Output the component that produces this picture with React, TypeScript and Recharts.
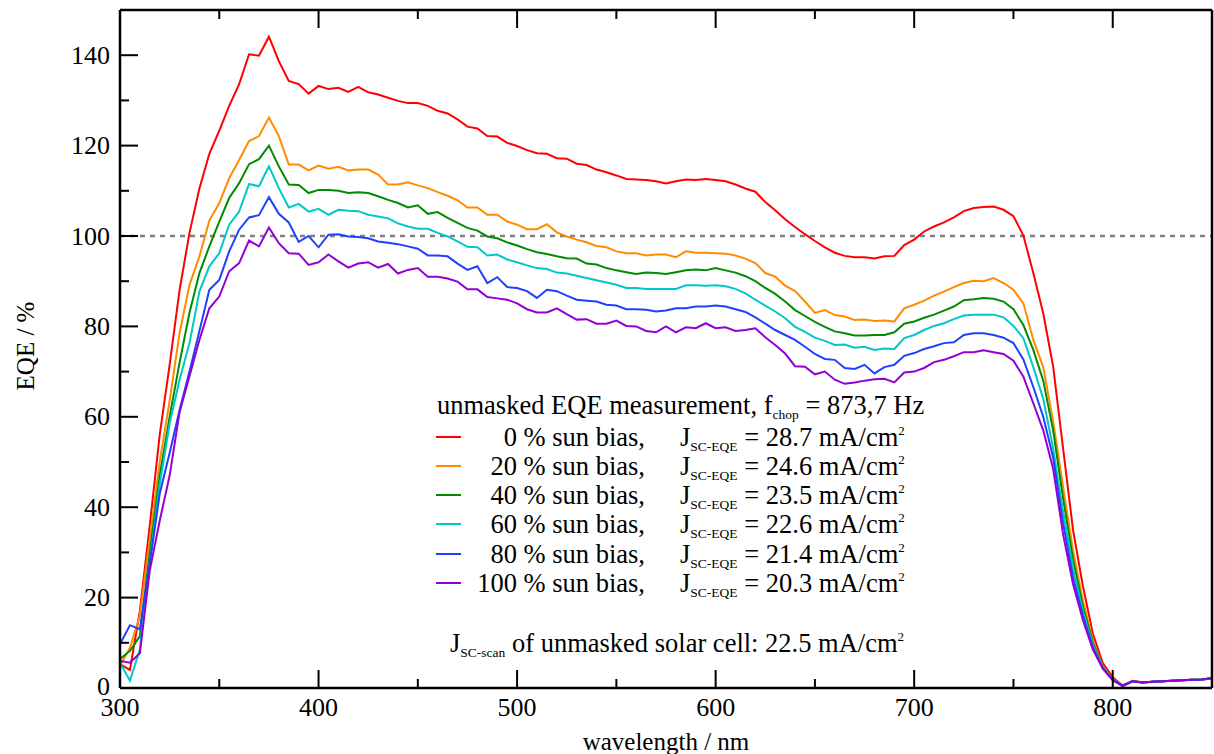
import { LineChart, Line, XAxis, YAxis, ReferenceLine } from 'recharts'

const wavelengths = [
  300, 305, 310, 315, 320, 325, 330, 335, 340, 345,
  350, 355, 360, 365, 370, 375, 380, 385, 390, 395,
  400, 405, 410, 415, 420, 425, 430, 435, 440, 445,
  450, 455, 460, 465, 470, 475, 480, 485, 490, 495,
  500, 505, 510, 515, 520, 525, 530, 535, 540, 545,
  550, 555, 560, 565, 570, 575, 580, 585, 590, 595,
  600, 605, 610, 615, 620, 625, 630, 635, 640, 645,
  650, 655, 660, 665, 670, 675, 680, 685, 690, 695,
  700, 705, 710, 715, 720, 725, 730, 735, 740, 745,
  750, 755, 760, 765, 770, 775, 780, 785, 790, 795,
  800, 805, 810, 815, 820, 825, 830, 835, 840, 845,
  850,
]

const eqeBias0 = [
  5.3, 4, 17, 36, 56, 71.5, 88, 100.7, 110.5, 118.2,
  123.3, 128.8, 133.6, 140.2, 139.9, 144.1, 138.7, 134.3, 133.6, 131.5,
  133.2, 132.5, 132.8, 131.9, 133, 131.8, 131.3, 130.6, 129.9, 129.4,
  129.4, 128.8, 127.7, 127.1, 125.8, 124.2, 123.8, 122.1, 122, 120.6,
  119.9, 119, 118.3, 118.2, 117.2, 117.1, 116, 115.7, 114.7, 114.1,
  113.4, 112.6, 112.5, 112.4, 112.1, 111.6, 112.1, 112.5, 112.4, 112.6,
  112.4, 112.1, 111.4, 110.5, 109.8, 107.5, 105.7, 103.7, 102, 100.4,
  98.9, 97.5, 96.3, 95.6, 95.3, 95.3, 95, 95.5, 95.6, 98,
  99.2, 101, 102.1, 103, 104.1, 105.5, 106.2, 106.4, 106.5, 105.8,
  104.4, 100.1, 91.8, 82.9, 71.1, 53, 35, 22.5, 12, 5.5,
  2.4, 0.5, 1.6, 1.3, 1.4, 1.5, 1.6, 1.7, 1.8, 1.9,
  2.1,
]

const eqeBias20 = [
  4.9, 8.9, 16, 33, 50, 63.5, 78.5, 89.2, 95.5, 103.4,
  107.3, 112.8, 116.8, 121, 122.1, 126.2, 122.1, 115.8, 115.8, 114.5,
  115.6, 114.9, 115.3, 114.5, 114.7, 114.7, 113.6, 111.4, 111.4, 111.9,
  111.2, 110.6, 109.7, 108.9, 107.9, 106.3, 106.3, 104.7, 104.7, 103.2,
  102.5, 101.5, 101.5, 102.6, 100.8, 99.9, 99.2, 98.6, 97.8, 97.5,
  96.6, 96.2, 96.2, 95.7, 95.9, 95.9, 95.3, 96.6, 96.3, 96.3,
  96.2, 96.1, 95.7, 95, 94, 91.8, 91, 89, 87.8, 85.5,
  83, 83.6, 82.5, 82.2, 81.4, 81.5, 81.2, 81.3, 81.1, 84,
  84.8, 85.7, 86.8, 87.7, 88.7, 89.6, 90.1, 90, 90.7, 89.6,
  88.1, 85.1, 77, 71, 59, 44.5, 30.5, 19.3, 10.5, 4.8,
  2, 0.5, 1.5, 1.2, 1.4, 1.5, 1.6, 1.7, 1.8, 1.9,
  2.1,
]

const eqeBias40 = [
  6.4, 8.2, 11.5, 30, 47, 60, 72, 83, 91.8, 97.7,
  103.2, 108.4, 111.7, 115.9, 117, 120, 115.4, 111.4, 111.3, 109.5,
  110.2, 110.2, 110, 109.5, 109.7, 109.5, 108.8, 108, 107.3, 106.3,
  106.8, 104.9, 105.3, 104, 102.9, 101.8, 101.2, 99.9, 99.5, 98.6,
  97.9, 97.1, 96.4, 96, 95.5, 95.1, 95, 93.9, 93.7, 92.9,
  92.4, 92, 91.6, 91.9, 91.8, 91.6, 92, 92.4, 92.6, 92.4,
  92.9, 92.4, 91.9, 91.1, 90, 88.5, 87.2, 85.5, 83.6, 82.3,
  81, 79.9, 78.9, 78.5, 78, 78, 78.1, 78.1, 78.7, 80.6,
  81.1, 81.9, 82.6, 83.5, 84.4, 85.8, 86, 86.3, 86.1, 85.5,
  83.8, 80.3, 74.8, 68, 57, 42, 28.5, 18, 10, 4.6,
  1.9, 0.5, 1.5, 1.2, 1.4, 1.5, 1.6, 1.7, 1.8, 1.9,
  2.1,
]

const eqeBias60 = [
  5.6, 1.6, 8.5, 28, 45, 58.5, 68.2, 76.3, 87.7, 93.3,
  96.2, 102.5, 105.4, 111.5, 111, 115.4, 110.6, 106.3, 107.1, 105.4,
  106, 104.7, 105.8, 105.6, 105.5, 104.7, 104.3, 103.9, 102.8, 102.1,
  101.6, 101.6, 100.7, 99.9, 98.8, 97.6, 97.5, 95.7, 95.9, 94.8,
  94.2, 93.5, 92.9, 92.7, 91.9, 91.7, 91.2, 90.7, 90.2, 89.7,
  89.2, 88.5, 88.5, 88.3, 88.3, 88.3, 88.3, 89.1, 89.1, 89,
  89.1, 88.9, 88.3, 87.3, 85.9, 84.6, 83.3, 81.8, 79.9, 78.8,
  77.5, 76.8, 75.9, 76, 75.3, 75.5, 74.8, 75.1, 75, 77.4,
  78.1, 79.2, 80.1, 80.7, 81.6, 82.4, 82.6, 82.6, 82.6, 82,
  80.1, 77.4, 71, 64, 53, 39, 26.5, 17, 9.5, 4.5,
  1.8, 0.6, 1.4, 1.2, 1.4, 1.5, 1.6, 1.7, 1.8, 1.9,
  2.2,
]

const eqeBias80 = [
  9.7, 13.9, 13, 27.6, 43, 52, 61.5, 70, 79, 88.1,
  90.3, 96.6, 101.4, 104.1, 104.6, 108.6, 104.9, 103, 98.7, 100,
  97.5, 100.3, 100.4, 99.9, 99.8, 99.5, 98.8, 98.5, 98.2, 97.7,
  97.2, 95.7, 95.7, 95.5, 93.9, 92.5, 93.3, 89.6, 90.9, 88.7,
  88.5, 87.8, 86.3, 88.1, 87.8, 86.8, 85.9, 85.7, 85.5, 84.8,
  84.6, 83.8, 83.8, 83.7, 83.3, 83.5, 84, 84, 84.4, 84.4,
  84.6, 84.4, 83.8, 83.2, 82, 80.6, 79.2, 78.1, 77, 75.5,
  73.9, 72.8, 72.6, 70.8, 70.6, 71.5, 69.6, 71, 71.5, 73.5,
  74.1, 75, 75.6, 76.3, 76.5, 78.1, 78.5, 78.5, 78.1, 77.5,
  76.3, 72.7, 66.6, 60, 51, 36.5, 24.5, 16, 9, 4.4,
  1.8, 0.6, 1.5, 1.2, 1.4, 1.5, 1.6, 1.7, 1.8, 1.9,
  2.2,
]

const eqeBias100 = [
  6, 5.6, 7.7, 26, 37, 47, 61, 69, 77, 84,
  86.6, 92.2, 94, 99, 97.7, 101.9, 98.4, 96.2, 96.1, 93.6,
  94.2, 95.9, 94.4, 93, 93.9, 94.2, 93, 93.8, 91.7, 92.5,
  92.9, 91, 91, 90.6, 89.9, 88.2, 88.2, 86.5, 86.2, 85.9,
  85.1, 83.8, 83.1, 83.1, 84, 82.7, 81.5, 81.6, 80.6, 80.6,
  81.3, 80.1, 80, 79, 78.7, 80, 78.7, 79.8, 79.6, 80.7,
  79.6, 79.8, 79, 79.2, 79.6, 77.6, 75.9, 74, 71.2, 71.1,
  69.4, 70, 68.2, 67.3, 67.6, 68, 68.3, 68.4, 67.6, 69.8,
  70, 70.8, 72.1, 72.6, 73.4, 74.3, 74.3, 74.7, 74.3, 73.9,
  72.4, 68.9, 63, 57, 48.5, 34, 23, 15, 8.5, 4.3,
  1.7, 0.4, 1.5, 1.2, 1.4, 1.5, 1.6, 1.7, 1.8, 1.9,
  2.2,
]

const biasLabels = ['0 % sun bias,', '20 % sun bias,', '40 % sun bias,', '60 % sun bias,', '80 % sun bias,', '100 % sun bias,']
const jscValues = ['28.7', '24.6', '23.5', '22.6', '21.4', '20.3']
const seriesKeys = ['b0', 'b20', 'b40', 'b60', 'b80', 'b100']
const seriesColors = ['#ff0000', '#ff8c00', '#008b00', '#00c8c8', '#2040ff', '#9400d3']
const xTicks = [300, 350, 400, 450, 500, 550, 600, 650, 700, 750, 800, 850]
const yTicks = [0, 10, 20, 30, 40, 50, 60, 70, 80, 90, 100, 110, 120, 130, 140]

const allSeries = [eqeBias0, eqeBias20, eqeBias40, eqeBias60, eqeBias80, eqeBias100]
const data = wavelengths.map((wl, i) => {
  const row: Record<string, number> = { wl }
  seriesKeys.forEach((k, s) => { row[k] = allSeries[s][i] })
  return row
})

const FONT = '"Liberation Serif", "Times New Roman", serif'
const MAJOR = 18
const MINOR = 9
const TICK_FONT = 26
const TEXT_FONT = 26.5

function BottomTick({ x, y, payload }: any) {
  const major = payload.value % 100 === 0
  return (
    <g>
      <line x1={x} x2={x} y1={y} y2={y - (major ? MAJOR : MINOR)} stroke="#000" strokeWidth={2} />
      {major && (
        <text x={x} y={y + 19} textAnchor="middle" dominantBaseline="central" fontSize={TICK_FONT} fontFamily={FONT} fill="#000">
          {payload.value}
        </text>
      )}
    </g>
  )
}

function TopTick({ x, y, payload }: any) {
  const major = payload.value % 100 === 0
  return <line x1={x} x2={x} y1={y} y2={y + (major ? MAJOR : MINOR)} stroke="#000" strokeWidth={2} />
}

function LeftTick({ x, y, payload }: any) {
  const major = payload.value % 20 === 0
  return (
    <g>
      <line x1={x} x2={x + (major ? MAJOR : MINOR)} y1={y} y2={y} stroke="#000" strokeWidth={2} />
      {major && (
        <text x={x - 10} y={payload.value === 0 ? y - 2 : y} textAnchor="end" dominantBaseline="central" fontSize={TICK_FONT} fontFamily={FONT} fill="#000">
          {payload.value}
        </text>
      )}
    </g>
  )
}

function RightTick({ x, y, payload }: any) {
  const major = payload.value % 20 === 0
  return <line x1={x} x2={x - (major ? MAJOR : MINOR)} y1={y} y2={y} stroke="#000" strokeWidth={2} />
}

const axisLine = { stroke: '#000', strokeWidth: 2.5 }
const subStyle = { fontSize: 13.5, verticalAlign: '-5px', lineHeight: 0 }
const supStyle = { fontSize: 13, verticalAlign: '11px', lineHeight: 0 }

export default function App() {
  const rowTop = [424, 453, 482, 511, 541, 570]
  return (
    <div style={{ position: 'absolute', left: 0, top: 0, width: 1214, height: 754, background: '#fff', fontFamily: FONT }}>
      <LineChart width={1214} height={754} data={data} margin={{ top: 9, right: 0, bottom: 0, left: 0 }}>
        <XAxis dataKey="wl" type="number" domain={[300, 850]} ticks={xTicks} interval={0}
          height={66} tickSize={0} tickMargin={0} axisLine={axisLine} tick={<BottomTick />} />
        <XAxis xAxisId="top" orientation="top" dataKey="wl" type="number" domain={[300, 850]} ticks={xTicks}
          interval={0} height={1} tickSize={0} tickMargin={0} axisLine={axisLine} tick={<TopTick />} />
        <YAxis type="number" domain={[0, 150]} ticks={yTicks} interval={0} width={120}
          tickSize={0} tickMargin={0} axisLine={axisLine} tick={<LeftTick />} />
        <YAxis yAxisId="right" orientation="right" type="number" domain={[0, 150]} ticks={yTicks} interval={0}
          width={2} tickSize={0} tickMargin={0} axisLine={axisLine} tick={<RightTick />} />
        <ReferenceLine y={100} stroke="#808080" strokeDasharray="5 5" strokeWidth={2.5} />
        {seriesKeys.map((k, i) => (
          <Line key={k} type="linear" dataKey={k} stroke={seriesColors[i]} strokeWidth={2}
            dot={false} isAnimationActive={false} />
        ))}
      </LineChart>

      <div style={{ position: 'absolute', left: 0, top: 0, width: 1214, height: 754, pointerEvents: 'none', color: '#000' }}>
        <div style={{ position: 'absolute', left: 26, top: 346, transform: 'translate(-50%, -50%) rotate(-90deg)', fontSize: 25, whiteSpace: 'nowrap' }}>
          EQE / %
        </div>
        <div style={{ position: 'absolute', left: 666, top: 742, transform: 'translate(-50%, -50%)', fontSize: 25, whiteSpace: 'nowrap' }}>
          wavelength / nm
        </div>

        <div style={{ position: 'absolute', left: 437, top: 392, fontSize: TEXT_FONT, whiteSpace: 'nowrap', lineHeight: '26px' }}>
          unmasked EQE measurement, f<span style={subStyle}>chop</span> = 873,7 Hz
        </div>
        {biasLabels.map((label, i) => (
          <div key={label}>
            <div style={{ position: 'absolute', left: 436, top: rowTop[i] + 12, width: 25, height: 2, background: seriesColors[i] }} />
            <div style={{ position: 'absolute', left: 445, width: 200, top: rowTop[i], textAlign: 'right', fontSize: TEXT_FONT, whiteSpace: 'nowrap', lineHeight: '26px' }}>
              {label}
            </div>
            <div style={{ position: 'absolute', left: 680, top: rowTop[i], fontSize: TEXT_FONT, whiteSpace: 'nowrap', lineHeight: '26px' }}>
              J<span style={subStyle}>SC-EQE</span> = {jscValues[i]} mA/cm<span style={supStyle}>2</span>
            </div>
          </div>
        ))}
        <div style={{ position: 'absolute', left: 450, top: 630, fontSize: TEXT_FONT, whiteSpace: 'nowrap', lineHeight: '26px' }}>
          J<span style={subStyle}>SC-scan</span> of unmasked solar cell: 22.5 mA/cm<span style={supStyle}>2</span>
        </div>
      </div>
    </div>
  )
}
